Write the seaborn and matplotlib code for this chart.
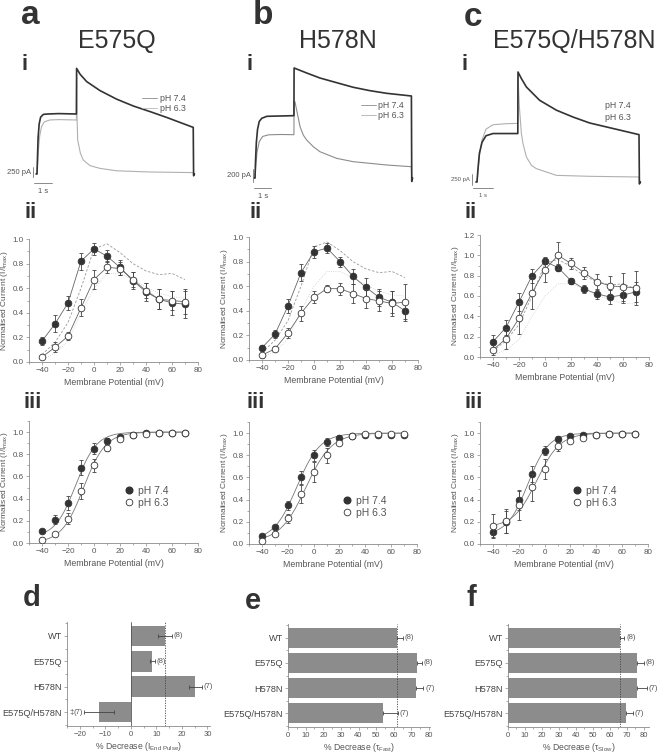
import numpy as np
import matplotlib
matplotlib.use("Agg")
import matplotlib.pyplot as plt
from matplotlib.lines import Line2D
from matplotlib.ticker import MultipleLocator
import seaborn as sns

# ---------------- data ----------------
volts = [-40, -30, -20, -10, 0, 10, 20, 30, 40, 50, 60, 70]

# WT reference I-V (dashed / dotted lines in ii)
wt74_ref = [0.06, 0.16, 0.32, 0.60, 0.92, 0.96, 0.89, 0.80, 0.74, 0.71, 0.72, 0.67]
wt63_ref = [0.02, 0.07, 0.17, 0.40, 0.60, 0.72, 0.72, 0.67, 0.61, 0.56, 0.53, 0.52]

# ii: normalised I-V
a_iv74 = [0.17, 0.31, 0.48, 0.82, 0.92, 0.86, 0.77, 0.66, 0.57, 0.51, 0.48, 0.47]
a_iv74_err = [0.03, 0.07, 0.06, 0.07, 0.05, 0.05, 0.06, 0.07, 0.07, 0.08, 0.10, 0.11]
a_iv63 = [0.04, 0.12, 0.21, 0.44, 0.67, 0.77, 0.76, 0.67, 0.58, 0.51, 0.50, 0.49]
a_iv63_err = [0.01, 0.04, 0.03, 0.07, 0.08, 0.05, 0.05, 0.06, 0.06, 0.08, 0.08, 0.10]

b_iv74 = [0.10, 0.21, 0.44, 0.71, 0.88, 0.91, 0.80, 0.68, 0.59, 0.51, 0.47, 0.40]
b_iv74_err = [0.02, 0.03, 0.06, 0.07, 0.05, 0.04, 0.04, 0.06, 0.08, 0.07, 0.09, 0.07]
b_iv63 = [0.04, 0.09, 0.22, 0.38, 0.51, 0.58, 0.58, 0.54, 0.50, 0.48, 0.46, 0.47]
b_iv63_err = [0.02, 0.02, 0.04, 0.06, 0.05, 0.03, 0.05, 0.08, 0.08, 0.08, 0.10, 0.15]

c_iv74 = [0.15, 0.29, 0.54, 0.80, 0.94, 0.88, 0.75, 0.67, 0.62, 0.59, 0.61, 0.64]
c_iv74_err = [0.07, 0.07, 0.09, 0.07, 0.03, 0.03, 0.03, 0.04, 0.05, 0.07, 0.08, 0.10]
c_iv63 = [0.07, 0.18, 0.38, 0.63, 0.86, 1.00, 0.92, 0.83, 0.74, 0.70, 0.69, 0.68]
c_iv63_err = [0.05, 0.10, 0.15, 0.16, 0.12, 0.13, 0.05, 0.06, 0.08, 0.10, 0.14, 0.17]

# iii: activation
a_act74 = [0.11, 0.21, 0.36, 0.68, 0.85, 0.92, 0.96, 0.97, 0.99, 0.99, 0.99, 0.99]
a_act74_err = [0.02, 0.04, 0.06, 0.07, 0.05, 0.03, 0.01, 0.01, 0.01, 0.01, 0.01, 0.01]
a_act63 = [0.03, 0.08, 0.22, 0.47, 0.70, 0.86, 0.94, 0.97, 0.98, 0.99, 0.99, 0.99]
a_act63_err = [0.02, 0.01, 0.05, 0.07, 0.06, 0.03, 0.02, 0.01, 0.01, 0.01, 0.01, 0.01]

b_act74 = [0.07, 0.15, 0.35, 0.60, 0.80, 0.92, 0.96, 0.97, 0.98, 0.98, 0.98, 0.98]
b_act74_err = [0.01, 0.01, 0.04, 0.06, 0.05, 0.04, 0.02, 0.01, 0.01, 0.01, 0.01, 0.01]
b_act63 = [0.03, 0.09, 0.23, 0.45, 0.65, 0.80, 0.91, 0.97, 0.99, 0.99, 0.99, 0.99]
b_act63_err = [0.01, 0.01, 0.04, 0.08, 0.09, 0.07, 0.02, 0.01, 0.01, 0.01, 0.01, 0.01]

c_act74 = [0.11, 0.20, 0.40, 0.63, 0.84, 0.95, 0.97, 0.98, 0.98, 0.99, 0.99, 0.99]
c_act74_err = [0.05, 0.10, 0.09, 0.07, 0.04, 0.02, 0.01, 0.01, 0.01, 0.01, 0.01, 0.01]
c_act63 = [0.16, 0.21, 0.35, 0.51, 0.68, 0.88, 0.93, 0.96, 0.98, 0.99, 0.99, 0.99]
c_act63_err = [0.11, 0.11, 0.13, 0.12, 0.09, 0.04, 0.02, 0.01, 0.01, 0.01, 0.01, 0.01]

# Boltzmann fit parameters (bottom, V1/2, slope)
a_fit74, a_fit63 = (0.05, -14, 8), (0.0, -8, 8.5)
b_fit74, b_fit63 = (0.03, -13, 9), (0.02, -6, 10)
c_fit74, c_fit63 = (0.08, -13, 8), (0.15, -6, 9)

# i: current traces (s, pA)
a_t74 = [-0.05, 0, 0.02, 0.06, 0.12, 0.2, 0.35, 0.6, 1.2, 2.19, 2.2, 2.4, 2.76, 3.5, 4.43, 5.35, 6.28, 7.2, 8.68, 8.7, 8.75]
a_i74 = [0, 0, 300, 900, 1250, 1420, 1490, 1500, 1510, 1500, 2640, 2490, 2310, 2085, 1870, 1700, 1560, 1415, 1165, -40, 0]
a_t63 = [-0.05, 0, 0.03, 0.08, 0.15, 0.25, 0.4, 0.7, 1.2, 2.19, 2.2, 2.22, 2.26, 2.41, 2.57, 2.94, 3.5, 4.43, 6.28, 8.68, 8.7, 8.75]
a_i63 = [0, 0, 200, 600, 950, 1180, 1300, 1350, 1360, 1350, 2500, 1500, 850, 520, 350, 210, 140, 80, 50, 35, -60, 0]

b_t74 = [-0.05, 0, 0.03, 0.08, 0.15, 0.25, 0.4, 0.7, 1.5, 2.29, 2.3, 3.04, 3.82, 4.8, 5.78, 6.76, 7.75, 9.2, 9.22, 9.27]
b_i74 = [0, 0, 250, 550, 750, 870, 920, 950, 955, 960, 1694, 1617, 1540, 1468, 1397, 1345, 1304, 1263, -50, 0]
b_t63 = [-0.05, 0, 0.05, 0.12, 0.25, 0.45, 0.8, 1.5, 2.29, 2.3, 2.35, 2.45, 2.65, 2.84, 3.04, 3.43, 3.82, 4.8, 5.78, 6.76, 7.75, 9.2, 9.22, 9.27]
b_i63 = [0, 0, 200, 400, 560, 640, 665, 670, 667, 1180, 1175, 1047, 790, 662, 585, 482, 405, 303, 251, 226, 200, 174, -60, 0]

c_t74 = [-0.05, 0, 0.05, 0.12, 0.25, 0.45, 0.8, 1.5, 2.04, 2.05, 2.22, 2.47, 3.13, 3.97, 4.8, 5.63, 6.47, 8.1, 8.12, 8.17]
c_i74 = [0, 0, 300, 650, 900, 1050, 1100, 1100, 1100, 2497, 2347, 2157, 1855, 1630, 1475, 1340, 1250, 1075, -40, 0]
c_t63 = [-0.05, 0, 0.05, 0.12, 0.25, 0.45, 0.8, 1.5, 2.04, 2.05, 2.12, 2.22, 2.3, 2.47, 2.72, 2.97, 3.97, 5.63, 8.1, 8.12, 8.17]
c_i63 = [0, 0, 250, 600, 950, 1200, 1300, 1325, 1330, 2390, 1700, 1097, 870, 568, 378, 303, 151, 129, 114, -60, 0]

# d-f: % decrease bars
groups = ["WT", "E575Q", "H578N", "E575Q/H578N"]
n_cells = ["(8)", "(8)", "(7)", "(7)"]
d_vals = [13.5, 8.4, 25.3, -12.5]
d_err = [2.7, 1.0, 2.4, 5.8]
e_vals = [61.6, 73.0, 72.4, 54.0]
e_err = [3.4, 2.8, 4.3, 8.5]
f_vals = [66.0, 75.7, 75.7, 69.2]
f_err = [2.5, 4.3, 5.9, 4.5]

# ---------------- style ----------------
sns.set_style("ticks")
plt.rcParams['font.family'] = ['Liberation Sans', 'DejaVu Sans']
plt.rcParams['mathtext.fontset'] = 'custom'
plt.rcParams['mathtext.rm'] = 'Liberation Sans'

DARK = '#333333'
SPINE = '#8a8a8a'
TXT = '#555555'
MS = 4.8

W, H = 657, 755
fig = plt.figure(figsize=(W / 100, H / 100), dpi=100)


def box(x0, y0, x1, y1):
    return fig.add_axes([x0 / W, 1 - y1 / H, (x1 - x0) / W, (y1 - y0) / H])


def ftext(x, y, s, **kw):
    fig.text(x / W, 1 - y / H, s, **kw)


def fpos(x, y):
    return (x / W, 1 - y / H)


def style_axes(ax, lsize=5.8):
    sns.despine(ax=ax)
    for s in ['left', 'bottom']:
        ax.spines[s].set_color(SPINE)
        ax.spines[s].set_linewidth(0.6)
    ax.tick_params(which='both', direction='out', color=SPINE, width=0.5,
                   labelsize=lsize, labelcolor=TXT, pad=1.5)
    ax.tick_params(which='major', length=2.2)
    ax.tick_params(which='minor', length=1.2)


# ---------------- i: traces ----------------
def trace_panel(x0, x1, t0px, px_s, base_py, pa_px, t74, i74, t63, i63,
                light_col, bar_pa, bar_lab, bar_fs, bar_t, hbar_y):
    ax = box(x0, 55, x1, 200)
    ax.set_xlim((x0 - t0px) / px_s, (x1 - t0px) / px_s)
    ax.set_ylim((base_py - 200) * pa_px, (base_py - 55) * pa_px)
    ax.axis('off')
    sns.lineplot(x=t63, y=i63, sort=False, estimator=None, color=light_col, lw=0.8, ax=ax)
    sns.lineplot(x=t74, y=i74, sort=False, estimator=None, color=DARK, lw=1.2, ax=ax)
    # scale bars
    ax.plot([bar_t, bar_t], [-bar_pa * 0.3, bar_pa * 0.7], color='#777', lw=0.6, clip_on=False)
    ax.text(bar_t - 0.12, bar_pa * 0.2, bar_lab, ha='right', va='center', fontsize=bar_fs, color=TXT)
    ax.plot([bar_t + 0.05, bar_t + 1.05], [hbar_y, hbar_y], color='#777', lw=0.6, clip_on=False)
    ax.text(bar_t + 0.55, hbar_y - 0.03 * (ax.get_ylim()[1] - ax.get_ylim()[0]), "1 s",
            ha='center', va='top', fontsize=bar_fs, color=TXT)
    return ax


ax_ai = trace_panel(5, 215, 37, 18, 174, 25, a_t74, a_i74, a_t63, a_i63,
                    '#b0b0b0', 250, "250 pA", 5.5, -0.2, -230)
ax_bi = trace_panel(222, 435, 255, 17, 178, 15.4, b_t74, b_i74, b_t63, b_i63,
                    '#8c8c8c', 200, "200 pA", 5.5, -0.1, -160)
ax_ci = trace_panel(442, 655, 477, 20, 182, 22.7, c_t74, c_i74, c_t63, c_i63,
                    '#b0b0b0', 250, "250 pA", 4.3, -0.25, -145)

for ax, col63, (lx, ly) in [(ax_ai, '#b8b8b8', (142, 94)), (ax_bi, '#b0b0b0', (361, 101))]:
    hs = [Line2D([], [], color='#8a8a8a', lw=0.6), Line2D([], [], color=col63, lw=0.6)]
    ax.legend(hs, ["pH 7.4", "pH 6.3"], loc='upper left', bbox_to_anchor=fpos(lx, ly),
              bbox_transform=fig.transFigure, frameon=False, fontsize=6.3, handlelength=1.7,
              handletextpad=0.3, labelspacing=0.1, borderpad=0, borderaxespad=0,
              labelcolor=TXT)
ftext(605, 106, "pH 7.4", fontsize=6.3, color=TXT, va='center')
ftext(605, 117, "pH 6.3", fontsize=6.3, color=TXT, va='center')


# ---------------- ii / iii ----------------
def points(ax, y74, e74, y63, e63):
    ax.errorbar(volts, y74, yerr=e74, fmt='o', ms=MS, mfc=DARK, mec=DARK, mew=0.6,
                ecolor='#444', elinewidth=0.6, capsize=1.5, capthick=0.6, zorder=4)
    ax.errorbar(volts, y63, yerr=e63, fmt='o', ms=MS, mfc='white', mec=DARK, mew=0.6,
                ecolor='#444', elinewidth=0.6, capsize=1.5, capthick=0.6, zorder=5)


def finish_iv(ax, ytop):
    style_axes(ax)
    ax.set_xlim(-50, 80)
    ax.set_ylim(0, ytop)
    ax.set_xticks([-40, -20, 0, 20, 40, 60, 80])
    ax.xaxis.set_minor_locator(MultipleLocator(10))
    ax.yaxis.set_major_locator(MultipleLocator(0.2))
    ax.yaxis.set_minor_locator(MultipleLocator(0.1))
    ax.yaxis.set_major_formatter(plt.FormatStrFormatter('%.1f'))
    ax.set_xlabel("Membrane Potential (mV)", fontsize=6.3, color=TXT, labelpad=2.5)
    ax.set_ylabel(r"Normalised Current (I/I$_\mathregular{max}$)", fontsize=6, color=TXT, labelpad=2)


def iv_panel(x0, x1, y0, y1, ytop, y74, e74, y63, e63):
    ax = box(x0, y0, x1, y1)
    sns.lineplot(x=volts, y=wt74_ref, color='#9a9a9a', lw=0.6, dashes=(3, 2), ax=ax)
    sns.lineplot(x=volts, y=wt63_ref, color='#cccccc', lw=0.6, linestyle=':', ax=ax)
    sns.lineplot(x=volts, y=y74, color='#666', lw=0.6, ax=ax)
    sns.lineplot(x=volts, y=y63, color='#666', lw=0.6, ax=ax)
    points(ax, y74, e74, y63, e63)
    finish_iv(ax, ytop)
    return ax


def act_panel(x0, x1, y0, y1, y74, e74, y63, e63, fit74, fit63, leg_xy):
    ax = box(x0, y0, x1, y1)
    vv = np.linspace(-40, 70, 200)
    for b, vh, k in (fit74, fit63):
        sns.lineplot(x=vv, y=b + (1 - b) / (1 + np.exp((vh - vv) / k)), color='#777', lw=0.6, ax=ax)
    points(ax, y74, e74, y63, e63)
    finish_iv(ax, 1.1)
    hs = [Line2D([], [], ls='', marker='o', ms=MS, mfc=DARK, mec=DARK),
          Line2D([], [], ls='', marker='o', ms=MS, mfc='white', mec=DARK, mew=0.6)]
    ax.legend(hs, ["pH 7.4", "pH 6.3"], loc='upper left', bbox_to_anchor=fpos(*leg_xy),
              bbox_transform=fig.transFigure, frameon=False, fontsize=7.5, handlelength=0.8,
              handletextpad=0.4, labelspacing=0.15, borderpad=0, borderaxespad=0, labelcolor=TXT)
    return ax


iv_panel(29, 198, 239, 362, 1.0, a_iv74, a_iv74_err, a_iv63, a_iv63_err)
iv_panel(249, 418, 237, 360, 1.0, b_iv74, b_iv74_err, b_iv63, b_iv63_err)
iv_panel(480, 649, 235, 357, 1.2, c_iv74, c_iv74_err, c_iv63, c_iv63_err)

act_panel(29, 198, 421, 543, a_act74, a_act74_err, a_act63, a_act63_err, a_fit74, a_fit63, (125, 486))
act_panel(249, 417, 422, 544, b_act74, b_act74_err, b_act63, b_act63_err, b_fit74, b_fit63, (343, 496))
act_panel(480, 648, 422, 544, c_act74, c_act74_err, c_act63, c_act63_err, c_fit74, c_fit63, (573, 486))


# ---------------- d-f: bars ----------------
def bar_panel(x0, x1, y0, y1, vals, errs, xlim, major, xlab, two_sided):
    ax = box(x0, y0, x1, y1)
    sns.barplot(x=vals, y=groups, orient='h', color='#8c8c8c', width=0.82,
                linewidth=0, errorbar=None, ax=ax)
    ypos = np.arange(len(groups))
    if two_sided:
        xerr = errs
    else:
        xerr = [np.zeros(len(errs)), errs]
    ax.errorbar(vals, ypos, xerr=xerr, fmt='none', ecolor='#444', elinewidth=0.6,
                capsize=1.3, capthick=0.6, zorder=4)
    ax.axvline(vals[0], color='#444', lw=0.6, ls=(0, (1.5, 1.5)), zorder=5)
    for v, e, y, n in zip(vals, errs, ypos, n_cells):
        if v >= 0:
            ax.text(v + e + 0.012 * (xlim[1] - xlim[0]), y, n, va='center', ha='left', fontsize=5.5, color=TXT)
        else:
            ax.text(v - e - 0.012 * (xlim[1] - xlim[0]), y, n, va='center', ha='right', fontsize=5.5, color=TXT)
    style_axes(ax, 5.5)
    ax.set_xlim(*xlim)
    ax.set_ylim(3.55, -0.55)
    ax.xaxis.set_major_locator(MultipleLocator(major))
    ax.xaxis.set_minor_locator(MultipleLocator(major / 2))
    ax.yaxis.set_minor_locator(plt.FixedLocator([-0.5, 0.5, 1.5, 2.5, 3.5]))
    ax.tick_params(axis='y', labelsize=6.6, labelcolor='#444')
    ax.set_ylabel("")
    ax.set_xlabel(xlab, fontsize=6.2, color=TXT, labelpad=1)
    return ax


ax_d = bar_panel(67, 210, 622, 726, d_vals, d_err, (-25, 31), 10,
                 r"% Decrease (I$_\mathregular{End\ Pulse}$)", True)
ax_d.axvline(0, color='#555', lw=0.6, zorder=3)
ax_d.text(-23.3, 3, "‡", ha='center', va='center', fontsize=5.5, color=TXT)
bar_panel(288, 430, 624, 727, e_vals, e_err, (0, 80.5), 10,
          r"% Decrease (τ$_\mathregular{Fast}$)", False)
bar_panel(508, 649, 624, 727, f_vals, f_err, (0, 83), 10,
          r"% Decrease (τ$_\mathregular{Slow}$)", False)

# ---------------- labels ----------------
for x, y, s in [(30, 15, "a"), (263, 15, "b"), (473, 17, "c")]:
    ftext(x, y, s, fontsize=24, fontweight='bold', color=DARK, ha='center', va='center')
for x, y, s in [(32, 598, "d"), (253, 601, "e"), (471, 598, "f")]:
    ftext(x, y, s, fontsize=21, fontweight='bold', color=DARK, ha='center', va='center')
for x, s in [(117, "E575Q"), (338, "H578N"), (574, "E575Q/H578N")]:
    ftext(x, 41, s, fontsize=18, color=DARK, ha='center', va='center')
for cx in [(25, 31, 33), (250, 256, 256), (465, 471, 474)]:
    ftext(cx[0], 65, "i", fontsize=16, fontweight='bold', color=DARK, ha='center', va='center')
    ftext(cx[1], 212, "ii", fontsize=16, fontweight='bold', color=DARK, ha='center', va='center')
    ftext(cx[2], 402, "iii", fontsize=16, fontweight='bold', color=DARK, ha='center', va='center')

fig.savefig("out.png", dpi=100)
